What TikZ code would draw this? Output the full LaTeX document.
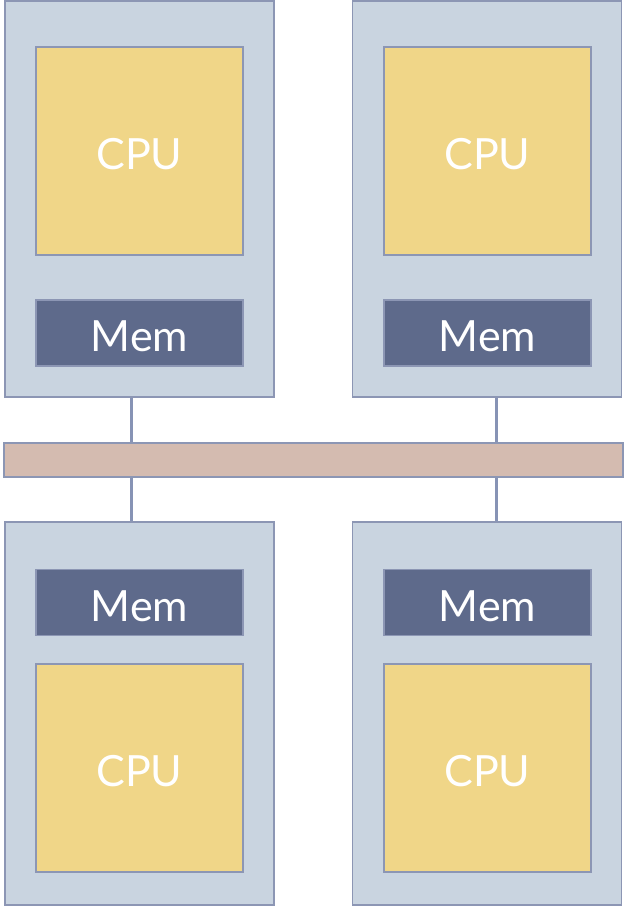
\documentclass[tikz,border=0pt]{standalone}
\usepackage{fontspec}
\setmainfont{Lato}
\definecolor{boardfill}{HTML}{C9D4E0}
\definecolor{boardline}{HTML}{8C96B4}
\definecolor{cpufill}{HTML}{F0D688}
\definecolor{memfill}{HTML}{5E6A8B}
\definecolor{busfill}{HTML}{D4BBB0}
\definecolor{wireline}{HTML}{8793B5}
\tikzset{
	board/.style={draw=boardline, fill=boardfill, line width=1.5pt, inner sep=0pt},
	chiptext/.style={text=white, font=\fontsize{43}{43}\selectfont, text height=37.5pt, text depth=0pt},
	cpubox/.style={draw=boardline, fill=cpufill, line width=1.5pt, minimum width=207pt, minimum height=208pt, inner sep=0pt, chiptext},
	membox/.style={draw=boardline, fill=memfill, line width=1.5pt, minimum width=207pt, minimum height=66pt, inner sep=0pt, chiptext},
	wire/.style={draw=wireline, line width=3pt}
}
\begin{document}
\begin{tikzpicture}[x=1pt, y=-1pt]
	\useasboundingbox (0,0) rectangle (625,908);
	% upper pair of boards
	\node[board, minimum width=269pt, minimum height=396pt] (Board TL) at (139.5, 199) {};
	\node[board, minimum width=269pt, minimum height=396pt] (Board TR) at (487, 199) {};
	\node[cpubox] (CPU TL) at (139.5, 151) {CPU};
	\node[membox] (Mem TL) at (139.5, 333) {Mem};
	\node[cpubox] (CPU TR) at (487.5, 151) {CPU};
	\node[membox] (Mem TR) at (487.5, 333) {Mem};
	% shared bus
	\node[draw=boardline, fill=busfill, line width=1.5pt, minimum width=619pt, minimum height=34pt, inner sep=0pt] (Bus) at (313.5, 460) {};
	% lower pair of boards
	\node[board, minimum width=269pt, minimum height=383pt] (Board BL) at (139.5, 713.5) {};
	\node[board, minimum width=269pt, minimum height=383pt] (Board BR) at (487, 713.5) {};
	\node[membox] (Mem BL) at (139.5, 602.5) {Mem};
	\node[cpubox] (CPU BL) at (139.5, 768) {CPU};
	\node[membox] (Mem BR) at (487.5, 602.5) {Mem};
	\node[cpubox] (CPU BR) at (487.5, 768) {CPU};
	% links to the bus
	\draw[wire] (Board TL.south -| 131,0) -- (Bus.north -| 131,0);
	\draw[wire] (Board TR.south -| 496,0) -- (Bus.north -| 496,0);
	\draw[wire] (Bus.south -| 131,0) -- (Board BL.north -| 131,0);
	\draw[wire] (Bus.south -| 496,0) -- (Board BR.north -| 496,0);
\end{tikzpicture}
\end{document}
